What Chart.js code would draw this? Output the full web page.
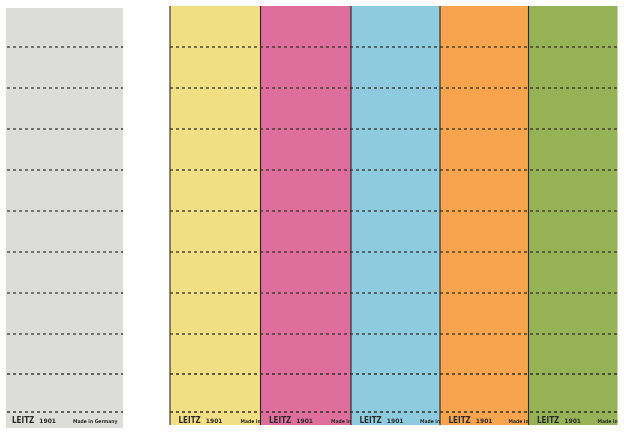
<!DOCTYPE html>
<html>
<head>
<meta charset="utf-8">
<script src="https://cdn.jsdelivr.net/npm/chart.js@4/dist/chart.umd.min.js"></script>
<style>
html,body{margin:0;padding:0;background:#fff;}
#wrap{width:624px;height:432px;}
</style>
</head>
<body>
<div id="wrap"><canvas id="c" width="624" height="432"></canvas></div>
<script>
// Label strips (Leitz 1901) — positions in sheet units
const strips = ['grau', 'gelb', 'rosa', 'blau', 'orange', 'grün'];
const stripLeft = [6, 170, 260.5, 351, 440, 528.5];
const stripRight = [123, 260.5, 351, 440, 528.5, 617.5];
const stripTop = [8, 6, 6, 6, 6, 6];
const stripBottom = [428, 425, 425, 425, 425, 425];
const stripColors = ['#dcdcd9', '#f1df86', '#de6f9d', '#8fcbdf', '#f6a54e', '#96b256'];
const perforationRows = [47, 88, 129, 170, 211, 252, 293, 334, 374, 412];
const separators = [170, 260.5, 351, 440, 528.5];
const brandText = 'LEITZ';
const modelText = '1901';
const originFull = 'Made in Germany';
const originCut = 'Made in';
const textRow = 421;

const datasets = [];
// strips as filled shapes
strips.forEach((s, i) => {
  datasets.push({
    label: s,
    data: [
      {x: stripLeft[i], y: stripTop[i]},
      {x: stripRight[i], y: stripTop[i]},
      {x: stripRight[i], y: stripBottom[i]},
      {x: stripLeft[i], y: stripBottom[i]},
      {x: stripLeft[i], y: stripTop[i]}
    ],
    showLine: true,
    fill: 'shape',
    backgroundColor: stripColors[i],
    borderColor: stripColors[i],
    borderWidth: 0,
    pointRadius: 0,
    tension: 0,
    order: 5
  });
});
// dark edges between colored strips
separators.forEach((x) => {
  datasets.push({
    label: 'edge',
    data: [{x: x, y: stripTop[1]}, {x: x, y: stripBottom[1]}],
    showLine: true,
    fill: false,
    borderColor: '#2a2620',
    borderWidth: 1.1,
    pointRadius: 0,
    order: 3
  });
});
// perforation lines: gray strip and colored block
perforationRows.forEach((y) => {
  datasets.push({
    label: 'perf',
    data: [{x: stripLeft[0] + 1, y: y}, {x: stripRight[0], y: y}],
    showLine: true, fill: false,
    borderColor: '#3a3a3a', borderWidth: 1.3, borderDash: [3, 3],
    pointRadius: 0, order: 1
  });
  datasets.push({
    label: 'perf',
    data: [{x: stripLeft[1], y: y}, {x: stripRight[5], y: y}],
    showLine: true, fill: false,
    borderColor: '#33302a', borderWidth: 1.3, borderDash: [3, 3],
    pointRadius: 0, order: 1
  });
});

const textPlugin = {
  id: 'stripText',
  afterDatasetsDraw(chart) {
    const ctx = chart.ctx;
    const xs = chart.scales.x, ys = chart.scales.y;
    const yPix = ys.getPixelForValue(textRow);
    strips.forEach((s, i) => {
      const l = xs.getPixelForValue(stripLeft[i]);
      const r = xs.getPixelForValue(stripRight[i]);
      const t = ys.getPixelForValue(stripTop[i]);
      const b = ys.getPixelForValue(stripBottom[i]);
      ctx.save();
      ctx.beginPath();
      ctx.rect(l, t, r - l, b - t);
      ctx.clip();
      ctx.fillStyle = '#2b2b2b';
      ctx.textBaseline = 'middle';
      ctx.textAlign = 'left';
      const bx = l + (i === 0 ? 6 : 8.5);
      ctx.font = 'bold 8px "DejaVu Sans Condensed", "Liberation Sans Narrow", sans-serif';
      ctx.fillText(brandText, bx, yPix);
      const w = ctx.measureText(brandText).width;
      ctx.font = 'bold 6px "DejaVu Sans", sans-serif';
      ctx.fillText(modelText, bx + w + 5, yPix + 0.5);
      ctx.font = 'bold 5px "DejaVu Sans Condensed", sans-serif';
      if (i === 0) {
        ctx.fillText(originFull, l + 67, yPix + 0.5);
      } else {
        ctx.fillText(originCut, r - 20, yPix + 0.5);
      }
      ctx.restore();
    });
  }
};

new Chart(document.getElementById('c'), {
  type: 'scatter',
  data: {datasets: datasets},
  options: {
    responsive: false,
    animation: false,
    devicePixelRatio: 1,
    layout: {padding: 0},
    plugins: {legend: {display: false}, tooltip: {enabled: false}},
    scales: {
      x: {type: 'linear', min: 0, max: 624, display: false},
      y: {type: 'linear', min: 0, max: 432, reverse: true, display: false}
    }
  },
  plugins: [textPlugin]
});
</script>
</body>
</html>
